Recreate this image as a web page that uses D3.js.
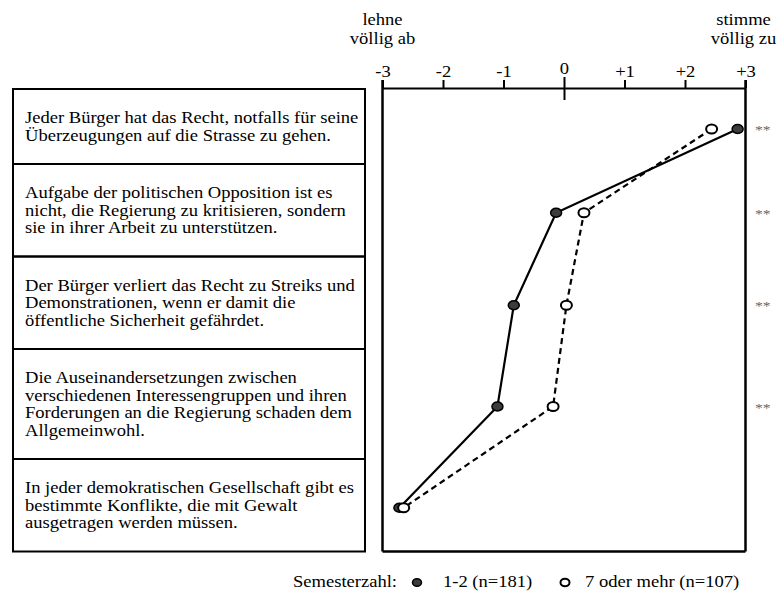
<!DOCTYPE html>
<html>
<head>
<meta charset="utf-8">
<script src="https://cdn.jsdelivr.net/npm/d3@7"></script>
<style>
  body { margin: 0; background: #fff; }
  text { font-family: "Liberation Serif", "Times New Roman", serif; fill: #000; }
</style>
</head>
<body>
<svg id="chart" width="782" height="591"></svg>
<script>
// statements (one array of lines per box)
var statements = [
  ["Jeder Bürger hat das Recht, notfalls für seine", "Überzeugungen auf die Strasse zu gehen."],
  ["Aufgabe der politischen Opposition ist es", "nicht, die Regierung zu kritisieren, sondern", "sie in ihrer Arbeit zu unterstützen."],
  ["Der Bürger verliert das Recht zu Streiks und", "Demonstrationen, wenn er damit die", "öffentliche Sicherheit gefährdet."],
  ["Die Auseinandersetzungen zwischen", "verschiedenen Interessengruppen und ihren", "Forderungen an die Regierung schaden dem", "Allgemeinwohl."],
  ["In jeder demokratischen Gesellschaft gibt es", "bestimmte Konflikte, die mit Gewalt", "ausgetragen werden müssen."]
];
// mean agreement, 1-2 semesters (filled) and 7 or more (open)
var seriesFew = [2.87, -0.13, -0.83, -1.10, -2.72];
var seriesMany = [2.44, 0.33, 0.04, -0.18, -2.65];
var significance = ["**", "**", "**", "**", ""];

var tickValues = [-3, -2, -1, 0, 1, 2, 3];
var tickLabels = ["-3", "-2", "-1", "0", "+1", "+2", "+3"];
var scaleEnds = [["lehne", "völlig ab"], ["stimme", "völlig zu"]];
var legendTitle = "Semesterzahl:";
var legendLabels = ["1-2 (n=181)", "7 oder mehr (n=107)"];

// layout
var fontSize = 16, stretch = 1.16, lineGap = 17.5;
var boxLeft = 13, boxRight = 365, rowsTop = 89;
var axisY = 88;

var svg = d3.select("#chart");

// text is a bit wider than tall in the original, so stretch it sideways
function addText(g, x, y, str, anchor, size) {
  return g.append("text")
    .attr("transform", "translate(" + x + "," + y + ") scale(" + stretch + ",1)")
    .attr("text-anchor", anchor || "start")
    .style("font-size", (size || fontSize) + "px")
    .text(str);
}

// row boxes
var rows = [];
var rowStart = rowsTop;
statements.forEach(function(lines) {
  var h = lines.length * lineGap + 40;
  rows.push({top: rowStart, h: h, lines: lines});
  rowStart += h;
});
var plotBottom = rowStart;

var x = d3.scaleLinear().domain([-3, 3]).range([382.5, 745.5]);

var boxes = svg.append("g");
rows.forEach(function(r) {
  boxes.append("rect")
    .attr("x", boxLeft).attr("y", r.top)
    .attr("width", boxRight - boxLeft).attr("height", r.h)
    .attr("fill", "none").attr("stroke", "#000").attr("stroke-width", 2);
  var c = r.top + r.h / 2;
  var first = c - (r.lines.length - 1) * lineGap / 2 + 5.5;
  r.lines.forEach(function(l, j) {
    addText(boxes, boxLeft + 12, first + j * lineGap, l);
  });
});

// plot frame
var frame = svg.append("g");
frame.append("line")
  .attr("x1", x(-3)).attr("x2", x(-3)).attr("y1", axisY - 8).attr("y2", plotBottom)
  .attr("stroke", "#000").attr("stroke-width", 2.5);
frame.append("line")
  .attr("x1", x(3)).attr("x2", x(3)).attr("y1", axisY - 8).attr("y2", plotBottom)
  .attr("stroke", "#000").attr("stroke-width", 2.5);
frame.append("line")
  .attr("x1", x(-3)).attr("x2", x(3)).attr("y1", plotBottom).attr("y2", plotBottom)
  .attr("stroke", "#000").attr("stroke-width", 2.5);

// top axis
var axis = svg.append("g")
  .attr("transform", "translate(0," + axisY + ")")
  .call(d3.axisTop(x).tickValues(tickValues)
    .tickFormat(function(d, i) { return tickLabels[i]; })
    .tickSizeInner(8).tickSizeOuter(0).tickPadding(3));
axis.attr("font-family", null).attr("font-size", null);
axis.select(".domain").attr("stroke", "#000").attr("stroke-width", 2);
axis.selectAll(".tick line").attr("stroke", "#000").attr("stroke-width", 2);
axis.selectAll(".tick").filter(function(d) { return d === 0; })
  .select("line").attr("y1", 12).attr("y2", -11);
axis.selectAll(".tick text")
  .style("font-size", fontSize + "px")
  .attr("fill", "#000")
  .attr("transform", "scale(" + stretch + ",1)")
  .attr("dy", function(d) { return d === 0 ? "-0.2em" : "0em"; });

// scale end labels
var ends = svg.append("g");
addText(ends, x(-3), 25, scaleEnds[0][0], "middle");
addText(ends, x(-3), 44, scaleEnds[0][1], "middle");
addText(ends, x(3) - 2, 25, scaleEnds[1][0], "middle");
addText(ends, x(3) - 2, 44, scaleEnds[1][1], "middle");

// data
function rowY(i) { return rows[i].top + rows[i].h / 2 + 2.5; }
var dataFew = seriesFew.map(function(v, i) { return {v: v, y: rowY(i)}; });
var dataMany = seriesMany.map(function(v, i) { return {v: v, y: rowY(i)}; });

var line = d3.line().x(function(d) { return x(d.v); }).y(function(d) { return d.y; });

svg.append("path").datum(dataFew).attr("d", line)
  .attr("fill", "none").attr("stroke", "#000").attr("stroke-width", 2.2);
svg.append("path").datum(dataMany).attr("d", line)
  .attr("fill", "none").attr("stroke", "#000").attr("stroke-width", 2.2)
  .attr("stroke-dasharray", "6,4");

svg.append("g").selectAll("ellipse").data(dataFew).join("ellipse")
  .attr("cx", function(d) { return x(d.v); }).attr("cy", function(d) { return d.y; })
  .attr("rx", 5.5).attr("ry", 4.5)
  .attr("fill", "#3c3c3c").attr("stroke", "#000").attr("stroke-width", 1.5);
svg.append("g").selectAll("ellipse").data(dataMany).join("ellipse")
  .attr("cx", function(d) { return x(d.v); }).attr("cy", function(d) { return d.y; })
  .attr("rx", 5.5).attr("ry", 4.5)
  .attr("fill", "#fff").attr("stroke", "#000").attr("stroke-width", 2);

// significance marks
var sig = svg.append("g");
significance.forEach(function(s, i) {
  if (s) addText(sig, 755, rowY(i) + 5, s, "start", 13.5).style("fill", "#666");
});

// legend
var leg = svg.append("g");
var legY = 587;
addText(leg, 293, legY, legendTitle);
leg.append("ellipse").attr("cx", 417).attr("cy", legY - 4.5).attr("rx", 4.5).attr("ry", 3.8)
  .attr("fill", "#3c3c3c").attr("stroke", "#000").attr("stroke-width", 1.5);
addText(leg, 443, legY, legendLabels[0]);
leg.append("ellipse").attr("cx", 565).attr("cy", legY - 4.5).attr("rx", 4.5).attr("ry", 3.8)
  .attr("fill", "#fff").attr("stroke", "#000").attr("stroke-width", 2);
addText(leg, 585, legY, legendLabels[1]);
</script>
</body>
</html>
